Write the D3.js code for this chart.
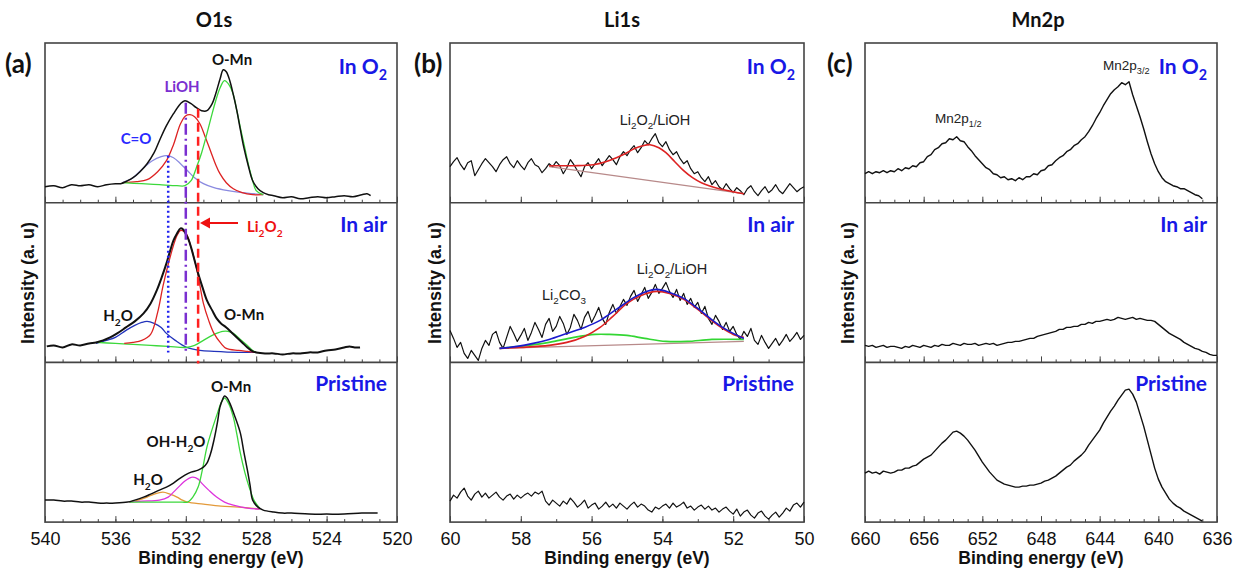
<!DOCTYPE html>
<html>
<head>
<meta charset="utf-8">
<script src="https://cdn.jsdelivr.net/npm/d3@7"></script>
<style>
body { margin: 0; background: #fff; }
svg { display: block; }
</style>
</head>
<body>
<svg id="chart" width="1236" height="569"></svg>
<script>
// ---------- data (intensity in arbitrary units, 0..160 per strip) ----------
var panelTitles = ["O1s", "Li1s", "Mn2p"];
var panelLetters = ["(a)", "(b)", "(c)"];
var o1sTicks = [540, 536, 532, 528, 524, 520];
var li1sTicks = [60, 58, 56, 54, 52, 50];
var mn2pTicks = [660, 656, 652, 648, 644, 640, 636];

// O1s, In O2
var o1sO2Raw = [[540,16],[539.5,17],[539,15],[538.5,18],[538,17],[537.5,18],[537,16],[536.5,18],[536,19],[535.7,19],[535.3,22],[535,25],[534.6,31],[534.2,39],[533.8,50],[533.5,62],[533.1,77],[532.7,89],[532.3,99],[532.05,102],[531.7,99],[531.4,95],[531.1,92],[530.8,92],[530.5,99],[530.3,109],[530.05,124],[529.87,133],[529.7,131],[529.5,122],[529.3,108],[529.1,92],[528.9,73],[528.7,55],[528.45,37],[528.2,22],[527.9,14],[527.6,10],[527.3,8],[527,7],[526.5,5],[526,6],[525.5,4],[525,5],[524.5,6],[524,5],[523.5,6],[523,7],[522.5,6],[522,8],[521.7,9],[521.5,7]];
var o1sO2Li2O2 = [[535.6,20],[534.8,21],[534.2,23],[533.6,31],[533.1,42],[532.7,58],[532.3,79],[532.0,87],[531.76,88],[531.5,86],[531.2,79],[530.9,66],[530.6,52],[530.3,38],[530.06,29],[529.7,20],[529.3,14],[528.8,10],[528.2,8],[527.6,8]];
var o1sO2CO = [[535.6,20],[535,25],[534.4,35],[533.9,42],[533.4,46],[533.1,47],[532.7,45],[532.3,39],[531.9,32],[531.5,25],[531,19],[530.4,15],[529.6,12],[528.8,10],[528.2,9],[527.6,8]];
var o1sO2MnO = [[535.6,20],[534.5,19],[533.5,18],[532.5,17],[532.05,17],[531.7,22],[531.4,35],[531.1,50],[530.8,69],[530.55,86],[530.3,102],[530.05,115],[529.8,122],[529.55,118],[529.3,108],[529.1,92],[528.9,75],[528.65,55],[528.4,35],[528.2,22],[528.0,12],[527.6,8]];

// O1s, In air
var o1sAirRaw = [[539.9,16],[539.5,17],[539,15],[538.5,18],[538,17],[537.5,19],[537.1,20],[536.7,22],[536.3,25],[535.9,29],[535.4,35],[534.9,41],[534.4,49],[534,59],[533.65,72],[533.35,86],[533.1,99],[532.9,111],[532.7,122],[532.5,129],[532.3,134],[532.15,133],[532.05,130],[531.85,123],[531.7,115],[531.5,102],[531.3,89],[531.05,75],[530.8,62],[530.5,52],[530.25,44],[530,39],[529.7,35],[529.4,30],[529.1,25],[528.8,20],[528.5,15],[528.2,11],[528,10],[527.5,9],[527,9],[526.5,8],[526,9],[525.5,9],[525,10],[524.5,10],[524,12],[523.5,13],[523,15],[522.7,16],[522.4,15],[522.1,15]];
var o1sAirLi2O2 = [[535.5,19],[535,20],[534.5,22],[534,28],[533.6,50],[533.3,76],[533,98],[532.7,117],[532.5,127],[532.3,132],[532.1,131],[531.95,128],[531.7,115],[531.4,95],[531.2,77],[531,59],[530.7,42],[530.4,29],[530,19],[529.7,14],[529,12],[528.5,11],[528,10]];
var o1sAirH2O = [[537.1,19],[536.5,22],[536,25],[535.4,32],[534.9,37],[534.5,40],[534.2,41],[533.8,39],[533.4,35],[533.1,29],[532.6,22],[531.95,15],[531.2,12],[530.4,11],[529,10],[528,10]];
var o1sAirMnO = [[537.1,20],[536,19],[535,18],[534,17],[533,16],[531.95,15],[531.5,17],[531,22],[530.5,27],[530.1,30],[529.9,31],[529.6,31],[529.3,29],[528.9,23],[528.5,17],[528.2,12],[528,10]];

// O1s, Pristine
var o1sPrRaw = [[540,22],[539.5,22],[539,21],[538.5,21],[538,20],[537.5,20],[537,19],[536.5,19],[536,19],[535.3,20],[534.9,22],[534.4,25],[534,28],[533.5,32],[533.1,35],[532.7,39],[532.4,43],[532.05,47],[531.7,50],[531.3,52],[531,55],[530.8,59],[530.6,68],[530.4,82],[530.2,100],[530.06,115],[529.9,123],[529.8,126],[529.65,124],[529.5,119],[529.2,105],[528.9,89],[528.7,70],[528.5,52],[528.35,37],[528.2,22],[527.9,15],[527.6,12],[527,10],[526.5,9],[526,9],[525,8],[524,8],[523,8],[522,9],[521.1,9]];
var o1sPrMnO = [[535.2,20],[534,20],[533,20],[532.2,20],[531.9,20],[531.6,25],[531.3,35],[531.05,53],[530.8,75],[530.5,93],[530.2,109],[530,119],[529.8,124],[529.55,118],[529.3,105],[529.1,88],[528.9,69],[528.65,50],[528.4,35],[528.1,21],[527.8,14]];
var o1sPrOH = [[535.2,20],[534.5,21],[533.5,22],[533,25],[532.7,30],[532.3,37],[532.05,41],[531.8,44],[531.6,45],[531.3,43],[531.1,39],[530.7,32],[530.25,25],[529.8,20],[529.3,17],[528.5,14],[527.8,13]];
var o1sPrH2O = [[535.2,20],[534.7,22],[534.2,25],[533.8,28],[533.3,30],[532.9,28],[532.5,25],[532.2,22],[531.9,20],[531,18],[530,16],[529,15],[527.8,13]];

// reference energies of the vertical marker lines (C=O, LiOH, Li2O2)
var markerEnergy = [533.0, 532.0, 531.3];

// Li1s raw spectra, sampled every 0.1 eV from 60 to 50 eV
var li1sEnergy = d3.range(0, 101).map(function(i) { return +(60 - i * 0.1).toFixed(1); });
var li1sO2Raw = [36,41,45,38,33,40,42,27,33,39, 44,40,36,31,38,43,46,39,35,42, 37,33,40,44,38,36,30,34,39,36, 41,37,29,35,43,38,32,26,36,40, 34,39,44,37,42,47,43,38,46,51, 47,53,57,50,55,62,58,64,69,60, 56,61,53,48,51,44,39,42,34,29, 31,25,21,26,18,22,16,13,19,14, 10,15,12,8,14,17,11,7,12,16, 10,13,18,12,9,14,19,15,11,14, 16];
var li1sAirRaw = [32,24,15,20,9,4,12,7,2,14, 22,17,28,31,20,14,25,36,29,21, 27,34,22,30,40,33,25,38,44,31, 36,46,39,28,35,48,42,33,45,51, 40,47,55,44,38,50,58,49,56,63, 57,66,72,61,68,75,64,70,78,69, 74,80,71,65,73,62,69,58,64,55, 60,49,56,44,38,47,41,33,40,31, 36,28,23,31,26,34,22,18,27,20, 14,19,24,17,22,28,21,25,30,23, 27];
var li1sPrRaw = [21,27,24,30,34,26,22,28,31,25, 29,24,27,30,25,22,26,28,23,27, 24,27,29,26,30,28,31,21,17,22, 19,16,21,18,24,20,15,18,22,14, 17,19,13,16,20,15,18,14,19,16, 13,17,20,15,18,16,12,10,15,13, 16,18,14,19,15,17,20,14,16,12, 15,17,13,16,12,14,10,13,15,11, 8,13,6,10,12,7,4,9,11,6, 3,7,10,5,9,14,11,17,19,15, 20];

// Li1s fits
var li1sO2Fit = [[57.2,37],[56.5,37],[55.95,38],[55.6,41],[55.3,45],[55,50],[54.8,54],[54.55,57],[54.35,58],[54.1,55],[53.9,50],[53.65,41],[53.4,32],[53.15,25],[52.9,20],[52.4,14],[52,11],[51.7,9]];
var li1sO2Bg = [[57.2,36],[51.7,9]];
var li1sAirSum = [[58.6,14],[58.1,16],[57.65,19],[57.2,23],[56.7,29],[56.2,35],[55.76,42],[55.3,53],[54.8,65],[54.45,71],[54.16,73],[53.8,70],[53.4,64],[53,54],[52.65,44],[52.3,35],[52,29],[51.7,24]];
var li1sAirLi2O2 = [[58.6,14],[58,15],[57.2,17],[56.7,20],[56.2,26],[55.76,35],[55.4,46],[55,59],[54.6,67],[54.16,71],[53.8,69],[53.4,63],[53,53],[52.65,43],[52.3,34],[52,28],[51.7,25]];
var li1sAirCO3 = [[58.6,14],[57.8,17],[57.2,20],[56.5,25],[55.9,28],[55.5,28],[55,27],[54.5,24],[53.9,21],[53.3,21],[52.6,23],[51.7,23]];
var li1sAirBg = [[58.6,14],[51.7,21]];

// Mn2p raw spectra, sampled every 0.25 eV from 660 eV
var mn2pStep = 0.25;
var mn2pO2 = [29,31,29,31,30,32,30,32,31,34, 32,35,34,37,36,40,41,46,48,53, 55,59,60,64,63,66,62,61,56,52, 47,43,39,35,33,29,28,25,26,23, 24,22,25,23,26,26,29,28,32,33, 37,38,42,45,47,51,53,57,59,63, 66,71,77,84,90,97,103,109,113,116, 120,118,121,108,97,86,74,61,49,39, 31,25,21,19,17,16,14,14,12,10, 8,7,4];
var mn2pAir = [17,16,17,15,16,17,15,16,16,15, 14,16,15,17,16,15,17,16,15,17, 16,18,17,17,19,18,17,19,18,18, 19,17,18,19,18,19,17,18,19,20, 20,21,21,22,23,24,24,26,27,28, 29,30,31,33,33,35,35,36,36,38, 38,40,39,41,41,42,43,42,43,45, 44,43,44,45,43,44,43,42,42,41, 38,35,32,29,27,25,23,20,18,16, 14,13,11,10,8,7,7];
var mn2pPr = [49,51,49,50,48,51,50,49,50,52, 52,54,54,56,57,60,63,65,67,71, 75,79,82,86,90,91,89,86,82,77, 72,66,60,55,50,46,42,40,38,37, 36,35,35,36,36,37,37,38,39,41, 42,44,46,49,52,55,57,61,64,67, 71,77,82,87,92,99,105,111,116,122, 127,132,133,128,120,108,96,82,68,54, 43,35,29,23,19,16,14,11,9,7, 5,3,1];

// ---------- layout ----------
var svg = d3.select("#chart");
var frameTop = 43, rowH = 159.7;
var blue = "#1818e6";
var arial = "'Liberation Sans', Arial, sans-serif";

function rowBottom(r) { return frameTop + rowH * (r + 1); }

var panels = [
  { x0: 45,  x1: 397,  domain: [540, 520], major: o1sTicks,  minor: d3.range(539, 520, -1), title: 214,  letter: 5,   yLab: 34 },
  { x0: 450, x1: 804,  domain: [60, 50],   major: li1sTicks, minor: d3.range(59, 50, -1),  title: 622,  letter: 414, yLab: 441 },
  { x0: 865, x1: 1217, domain: [660, 636], major: mn2pTicks, minor: d3.range(659, 636, -1), title: 1038, letter: 827, yLab: 854 }
];
panels.forEach(function(p) { p.x = d3.scaleLinear().domain(p.domain).range([p.x0, p.x1]); });

var rowY = [0, 1, 2].map(function(r) {
  return d3.scaleLinear().domain([0, 160]).range([rowBottom(r), rowBottom(r) - 160]);
});

// ---------- frames and ticks ----------
panels.forEach(function(p) {
  svg.append("rect")
    .attr("x", p.x0).attr("y", frameTop)
    .attr("width", p.x1 - p.x0).attr("height", rowH * 3)
    .attr("fill", "none").attr("stroke", "#444").attr("stroke-width", 1.6);
  [0, 1].forEach(function(r) {
    svg.append("line")
      .attr("x1", p.x0).attr("x2", p.x1)
      .attr("y1", rowBottom(r)).attr("y2", rowBottom(r))
      .attr("stroke", "#444").attr("stroke-width", 1.6);
  });
  [0, 1, 2].forEach(function(r) {
    var gMinor = svg.append("g")
      .attr("transform", "translate(0," + rowBottom(r) + ")")
      .call(d3.axisBottom(p.x).tickValues(p.minor).tickSize(-3).tickFormat(""));
    gMinor.attr("color", "#444");
    gMinor.select(".domain").remove();

    var gMajor = svg.append("g")
      .attr("transform", "translate(0," + rowBottom(r) + ")")
      .call(d3.axisBottom(p.x).tickValues(p.major).tickSize(-6).tickPadding(10)
        .tickFormat(r === 2 ? d3.format("d") : ""));
    gMajor.attr("color", "#444").attr("font-family", arial).attr("font-size", 18);
    gMajor.select(".domain").remove();
    gMajor.selectAll("text").attr("fill", "#111");
  });
});

// ---------- text helper (parts: [text, isSubscript]) ----------
function rich(x, y, parts, o) {
  var t = svg.append("text")
    .attr("x", x).attr("y", y)
    .attr("text-anchor", o.anchor || "start")
    .attr("font-family", o.font || arial)
    .attr("font-size", o.size)
    .attr("font-weight", o.weight || "normal")
    .attr("fill", o.color || "#111");
  var shift = 0;
  parts.forEach(function(p) {
    var s = t.append("tspan").text(p[0]);
    var target = p[1] ? o.size * 0.3 : 0;
    if (target !== shift) { s.attr("dy", target - shift); shift = target; }
    if (p[1]) s.attr("font-size", o.size * 0.68);
  });
  return t;
}

var lato = "Lato, 'Open Sans', sans-serif";

// titles, letters, axis titles, strip names
panels.forEach(function(p, i) {
  rich(p.title, 27, [[panelTitles[i], 0]], { font: lato, size: 20, weight: 700, anchor: "middle" });
  rich(p.letter, 73, [[panelLetters[i], 0]], { font: lato, size: 26, weight: 700 });
  rich((p.x0 + p.x1) / 2, 564, [["Binding energy (eV)", 0]], { size: 17.5, weight: 700, anchor: "middle" });
  svg.append("text")
    .attr("transform", "translate(" + p.yLab + ",283) rotate(-90)")
    .attr("text-anchor", "middle")
    .attr("font-family", arial)
    .attr("font-size", 18).attr("font-weight", 700).attr("fill", "#111")
    .text("Intensity (a. u)");
  var right = p.x1 - 10;
  rich(right + (i === 1 ? 1 : 0), 74, [["In O", 0], ["2", 1]], { font: lato, size: 21, weight: 700, color: blue, anchor: "end" });
  rich(right, 232, [["In air", 0]], { font: lato, size: 21, weight: 700, color: blue, anchor: "end" });
  rich(right, 391, [["Pristine", 0]], { font: lato, size: 21, weight: 700, color: blue, anchor: "end" });
});

// ---------- curves ----------
function drawSeries(p, r, data, color, width, curve) {
  var line = d3.line()
    .x(function(d) { return panels[p].x(d[0]); })
    .y(function(d) { return rowY[r](d[1]); })
    .curve(curve || d3.curveCatmullRom.alpha(0.5));
  svg.append("path").datum(data)
    .attr("d", line)
    .attr("fill", "none").attr("stroke", color).attr("stroke-width", width)
    .attr("stroke-linejoin", "round");
}

function pairs(energy, values) { return values.map(function(v, i) { return [energy[i], v]; }); }
var mnEnergy = d3.range(0, 97).map(function(i) { return 660 - i * mn2pStep; });

// O1s
drawSeries(0, 0, o1sO2CO, "#8a8ae0", 1.3);
drawSeries(0, 0, o1sO2Li2O2, "#dd2222", 1.3);
drawSeries(0, 0, o1sO2MnO, "#3cd83c", 1.3);
drawSeries(0, 0, o1sO2Raw, "#111", 1.5);

drawSeries(0, 1, o1sAirH2O, "#2233bb", 1.3);
drawSeries(0, 1, o1sAirMnO, "#3cd83c", 1.3);
drawSeries(0, 1, o1sAirLi2O2, "#dd2222", 1.3);
drawSeries(0, 1, o1sAirRaw, "#111", 2);

drawSeries(0, 2, o1sPrH2O, "#e39a3a", 1.3);
drawSeries(0, 2, o1sPrOH, "#dd33dd", 1.3);
drawSeries(0, 2, o1sPrMnO, "#3cd83c", 1.3);
drawSeries(0, 2, o1sPrRaw, "#111", 1.5);

// Li1s
drawSeries(1, 0, pairs(li1sEnergy, li1sO2Raw), "#111", 1.2, d3.curveLinear);
drawSeries(1, 0, li1sO2Bg, "#b88a8a", 1.2, d3.curveLinear);
drawSeries(1, 0, li1sO2Fit, "#dd2222", 1.6);

drawSeries(1, 1, pairs(li1sEnergy, li1sAirRaw), "#111", 1.2, d3.curveLinear);
drawSeries(1, 1, li1sAirBg, "#b88a8a", 1.2, d3.curveLinear);
drawSeries(1, 1, li1sAirCO3, "#33d633", 1.6);
drawSeries(1, 1, li1sAirLi2O2, "#dd2222", 1.6);
drawSeries(1, 1, li1sAirSum, "#1a1acc", 1.6);

drawSeries(1, 2, pairs(li1sEnergy, li1sPrRaw), "#111", 1.2, d3.curveLinear);

// Mn2p
drawSeries(2, 0, pairs(mnEnergy, mn2pO2), "#111", 1.4, d3.curveLinear);
drawSeries(2, 1, pairs(mnEnergy, mn2pAir), "#111", 1.4, d3.curveLinear);
drawSeries(2, 2, pairs(mnEnergy, mn2pPr), "#111", 1.4, d3.curveLinear);

// ---------- O1s marker lines ----------
var xa = panels[0].x;
var markers = [
  { e: markerEnergy[0], from: rowY[0](47),  to: rowY[1](10), color: "#2020ee", dash: "2,3" },
  { e: markerEnergy[1], from: rowY[0](100), to: rowY[1](9),  color: "#7a2fd0", dash: "11,4,2,4" },
  { e: markerEnergy[2], from: rowY[0](94),  to: rowY[1](-1), color: "#ff2020", dash: "9,5" }
];
markers.forEach(function(m) {
  svg.append("line")
    .attr("x1", xa(m.e)).attr("x2", xa(m.e))
    .attr("y1", m.from).attr("y2", m.to)
    .attr("stroke", m.color).attr("stroke-width", 2.5)
    .attr("stroke-dasharray", m.dash);
});

// ---------- annotations ----------
var bold15 = { font: lato, size: 15, weight: 700, anchor: "middle" };
rich(232, 65, [["O-Mn", 0]], bold15);
rich(182, 92, [["LiOH", 0]], { font: lato, size: 15, weight: 700, anchor: "middle", color: "#7a2fd0" });
rich(136, 144, [["C=O", 0]], { font: lato, size: 15, weight: 700, anchor: "middle", color: "#2a2aff" });
rich(118, 321, [["H", 0], ["2", 1], ["O", 0]], bold15);
rich(244, 320, [["O-Mn", 0]], bold15);
rich(231, 392, [["O-Mn", 0]], bold15);
rich(176, 447, [["OH-H", 0], ["2", 1], ["O", 0]], bold15);
rich(148, 485, [["H", 0], ["2", 1], ["O", 0]], bold15);

// Li2O2 arrow
svg.append("line").attr("x1", 238).attr("x2", 207).attr("y1", 223).attr("y2", 223)
  .attr("stroke", "#ee1111").attr("stroke-width", 2);
svg.append("path").attr("d", "M200,223 L210,217.5 L210,228.5 Z").attr("fill", "#ee1111");
rich(247, 232, [["Li", 0], ["2", 1], ["O", 0], ["2", 1]], { font: lato, size: 15, weight: 700, color: "#ee1111" });

var normal = { size: 14.5, color: "#222", anchor: "middle" };
rich(655, 125, [["Li", 0], ["2", 1], ["O", 0], ["2", 1], ["/LiOH", 0]], normal);
rich(672, 274, [["Li", 0], ["2", 1], ["O", 0], ["2", 1], ["/LiOH", 0]], normal);
rich(542, 300, [["Li", 0], ["2", 1], ["CO", 0], ["3", 1]], { size: 14.5, color: "#222" });
rich(935, 123, [["Mn2p", 0], ["1/2", 1]], { size: 13.5, color: "#222" });
rich(1103, 70, [["Mn2p", 0], ["3/2", 1]], { size: 13.5, color: "#222" });
</script>
</body>
</html>
